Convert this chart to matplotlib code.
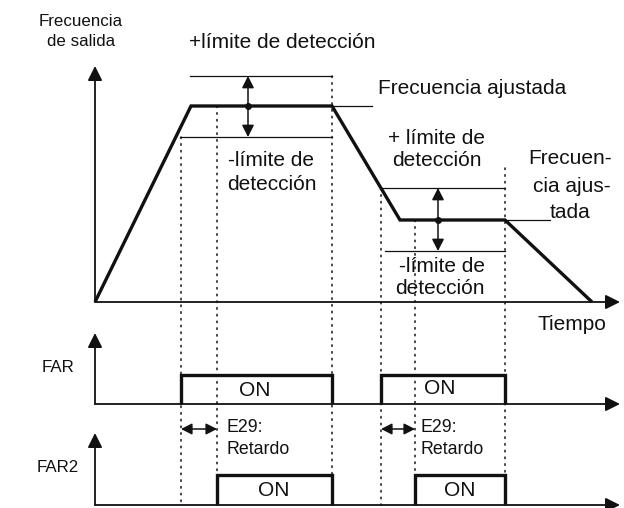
import matplotlib.pyplot as plt
from matplotlib.patches import ConnectionPatch

plt.rcParams['font.family'] = ['Liberation Sans', 'DejaVu Sans']

# output frequency profile (time, frequency) - arbitrary units
t_out = [0, 96, 237, 305, 410, 497]
f_out = [0, 196, 196, 82, 82, 0]

# set frequencies and detection band
t_marker = [153, 343]
f_set = [196, 82]
band_up = [30, 32]
band_dn = [31, 31]
band_up_start = [95, 287]
band_dn_start = [85, 290]
band_end = [237, 410]

# FAR / FAR2 signals
far_on = [86, 286]
far_off = [237, 410]
far2_on = [122, 320]
far2_off = [237, 410]
far_high = 29
far2_high = 30
delay_level = 76

# dotted guide lines: time, top (freq), bottom (FAR2 level)
guide_t = [86, 122, 237, 286, 320, 410]
guide_top = [165, 196, 226, 114, 82, 134]
guide_bot = [0, 30, 30, 0, 30, 30]

W, H = 624, 508
fig = plt.figure(figsize=(6.24, 5.08), dpi=100)

base = fig.add_axes([0, 0, 1, 1])
base.set_xlim(0, W)
base.set_ylim(H, 0)
base.axis('off')


def panel(row):
    a = fig.add_axes([0, 0, 1, 1])
    a.set_xlim(-95, W - 95)
    a.set_ylim(-(H - row), row)
    a.axis('off')
    a.patch.set_alpha(0)
    return a


ax_f = panel(302)
ax_far = panel(404)
ax_far2 = panel(505)

K = '#111111'
axis_arrow = dict(arrowstyle='-|>,head_length=0.6,head_width=0.3', mutation_scale=14.5,
                  lw=1.3, color=K, shrinkA=0, shrinkB=0)
small_arrow = dict(arrowstyle='-|>,head_length=0.55,head_width=0.28', mutation_scale=13,
                   lw=1.1, color=K, shrinkA=0, shrinkB=0)
both_arrow = dict(arrowstyle='<|-|>,head_length=0.55,head_width=0.28', mutation_scale=12,
                  lw=1.1, color=K, shrinkA=0, shrinkB=0)

# axes with arrow tips
for a, ytip in [(ax_f, 236), (ax_far, 71), (ax_far2, 72)]:
    a.annotate('', xy=(525, 0), xytext=(0, 0), arrowprops=axis_arrow)
    a.annotate('', xy=(0, ytip), xytext=(0, 0), arrowprops=axis_arrow)

# dotted guides
for t, top, bot in zip(guide_t, guide_top, guide_bot):
    con = ConnectionPatch(xyA=(t, top), coordsA=ax_f.transData,
                          xyB=(t, bot), coordsB=ax_far2.transData,
                          color=K, lw=1.1, linestyle=(0, (1, 3.4)))
    ax_far2.add_artist(con)

# output frequency
ax_f.plot(t_out, f_out, color=K, lw=2.4, solid_joinstyle='miter', solid_capstyle='butt')

for i in range(2):
    ax_f.plot([band_up_start[i], band_end[i]], [f_set[i] + band_up[i]] * 2, color=K, lw=0.9)
    ax_f.plot([band_dn_start[i], band_end[i]], [f_set[i] - band_dn[i]] * 2, color=K, lw=0.9)
    ax_f.annotate('', xy=(t_marker[i], f_set[i] + band_up[i]), xytext=(t_marker[i], f_set[i]),
                  arrowprops=small_arrow)
    ax_f.annotate('', xy=(t_marker[i], f_set[i] - band_dn[i]), xytext=(t_marker[i], f_set[i]),
                  arrowprops=small_arrow)
ax_f.plot(t_marker, f_set, 'o', color=K, ms=4)

# leader lines to the labels
ax_f.plot([t_out[2], 277], [f_set[0]] * 2, color=K, lw=0.9)
ax_f.plot([t_out[4], 455], [f_set[1]] * 2, color=K, lw=0.9)

# pulses
for a, on, off, hi in [(ax_far, far_on, far_off, far_high), (ax_far2, far2_on, far2_off, far2_high)]:
    for s, e in zip(on, off):
        a.plot([s, s, e, e], [0, hi, hi, 0], color=K, lw=2.4,
               solid_joinstyle='miter', solid_capstyle='butt')

for s, e in zip(far_on, far2_on):
    ax_far2.annotate('', xy=(e, delay_level), xytext=(s, delay_level), arrowprops=both_arrow)

# texts
big = 15
mid = 12.8
small = 12.2
txt = dict(color=K, va='center')
base.text(81, 21, 'Frecuencia', fontsize=small, ha='center', **txt)
base.text(81, 42, 'de salida', fontsize=small, ha='center', **txt)
base.text(282, 42, '+límite de detección', fontsize=big, ha='center', **txt)
base.text(378, 89, 'Frecuencia ajustada', fontsize=big, ha='left', **txt)
base.text(271, 161, '-límite de', fontsize=big, ha='center', **txt)
base.text(272, 185, 'detección', fontsize=big, ha='center', **txt)
base.text(436, 139, '+ límite de', fontsize=big, ha='center', **txt)
base.text(437, 161, 'detección', fontsize=big, ha='center', **txt)
base.text(442, 267, '-límite de', fontsize=big, ha='center', **txt)
base.text(440, 288, 'detección', fontsize=big, ha='center', **txt)
base.text(570, 159, 'Frecuen-', fontsize=big, ha='center', **txt)
base.text(572, 186, 'cia ajus-', fontsize=big, ha='center', **txt)
base.text(570, 212, 'tada', fontsize=big, ha='center', **txt)
base.text(572, 324, 'Tiempo', fontsize=big, ha='center', **txt)
base.text(58, 368, 'FAR', fontsize=small, ha='center', **txt)
base.text(58, 467, 'FAR2', fontsize=small, ha='center', **txt)
for x, y in [(255, 390), (440, 389), (274, 490), (460, 490)]:
    base.text(x, y, 'ON', fontsize=big, ha='center', **txt)
for x in [226, 421]:
    base.text(x, 428, 'E29:', fontsize=mid, ha='left', **txt)
    base.text(x, 450, 'Retardo', fontsize=mid, ha='left', **txt)

fig.savefig('out.png', dpi=100)
